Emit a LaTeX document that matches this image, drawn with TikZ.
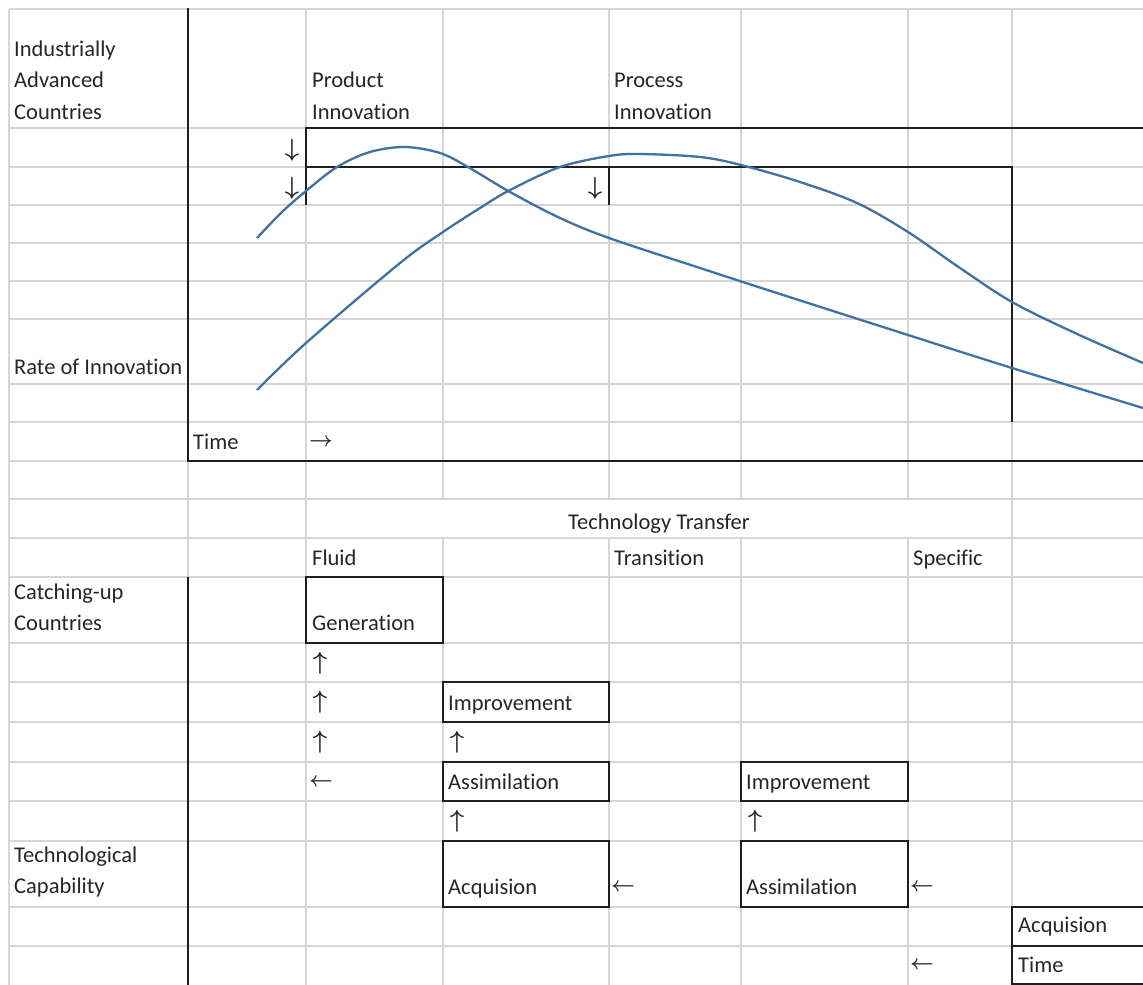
\documentclass[tikz,border=0pt]{standalone}
\usepackage{fontspec}
\setmainfont[Ligatures=NoCommon]{Carlito}
\usepackage{tikz}
\definecolor{gridgray}{RGB}{214,214,214}
\definecolor{curveblue}{RGB}{65,113,160}
\newcommand{\cellfont}{\fontsize{22.5pt}{31pt}\selectfont}
\newcommand{\signfont}{\fontsize{28pt}{28pt}\selectfont\boldmath}
\newcommand{\hsignfont}{\fontsize{20pt}{20pt}\selectfont\boldmath}

\begin{document}
\begin{tikzpicture}[x=1pt,y=-1pt,
	gridline/.style={draw=gridgray,line width=1.3pt},
	axis/.style={draw=black!88,line width=2pt},
	cellbox/.style={draw=black!88,line width=2.6pt},
	rate/.style={draw=curveblue,line width=2.3pt},
	celltext/.style={anchor=base west,inner sep=0pt,font=\cellfont,text=black!85},
	sign/.style={inner sep=0pt,font=\signfont,text=black!85},
	hsign/.style={inner sep=0pt,font=\hsignfont,text=black!85}]
	\useasboundingbox (0,0) rectangle (1143,985);
	% sheet grid
	\foreach \y in {9,128,167,205,243,281,319,384,422,461,499,538,577,643,682,722,762,801,841,907,946}
		\draw[gridline] (9,\y) -- (1143,\y);
	\foreach \x in {9,188,306,1012}
		\draw[gridline] (\x,9) -- (\x,985);
	\foreach \x in {443,609,741,908} {
		\draw[gridline] (\x,9) -- (\x,499);
		\draw[gridline] (\x,538) -- (\x,985);
	}
	% upper chart
	\draw[axis] (188,8) -- (188,461) -- (1143,461);
	\draw[axis] (306,205) -- (306,128) -- (1143,128);
	\draw[axis] (306,167) -- (1012,167) -- (1012,422);
	\draw[axis] (609,167) -- (609,205);
	\draw[rate] plot[smooth,tension=0.55] coordinates {(257,238) (282,212) (306,191) (337,167) (370,152) (405,147) (440,153) (468,167) (510,192) (560,218) (609,238) (700,268) (780,294) (908,335) (1012,368) (1143,408)};
	\draw[rate] plot[smooth,tension=0.55] coordinates {(257,390) (306,343) (400,263) (443,232) (480,208) (510,190) (560,167) (609,156) (640,154) (700,157) (741,165) (800,182) (857,203) (908,232) (960,268) (1012,302) (1075,333) (1143,363)};
	\node[celltext] (adv1) at (14,56) {Industrially};
	\node[celltext] (adv2) at (14,87) {Advanced};
	\node[celltext] (adv3) at (14,119) {Countries};
	\node[celltext] (prod1) at (312,87) {Product};
	\node[celltext] (prod2) at (312,119) {Innovation};
	\node[celltext] (proc1) at (614,87) {Process};
	\node[celltext] (proc2) at (614,119) {Innovation};
	\node[celltext] (rate) at (14,374) {Rate of Innovation};
	\node[celltext] (time1) at (193,449) {Time};
	\node[sign] (d1) at (292,150) {$\downarrow$};
	\node[sign] (d2) at (292,188) {$\downarrow$};
	\node[sign] (d3) at (595,188) {$\downarrow$};
	\node[hsign] (r1) at (321,442) {$\rightarrow$};
	% lower chart
	\draw[axis] (188,577) -- (188,985);
	\node[font=\cellfont,text=black!85,anchor=base,inner sep=0pt] (transfer) at (659,529) {Technology Transfer};
	\node[celltext] (fluid) at (312,565) {Fluid};
	\node[celltext] (trans) at (614,565) {Transition};
	\node[celltext] (spec) at (913,565) {Specific};
	\node[celltext] (catch1) at (14,599) {Catching-up};
	\node[celltext] (catch2) at (14,630) {Countries};
	\node[celltext] (cap1) at (14,862) {Technological};
	\node[celltext] (cap2) at (14,893) {Capability};
	\draw[cellbox] (306,577) rectangle (443,643);
	\draw[cellbox] (443,682) rectangle (609,722);
	\draw[cellbox] (443,762) rectangle (609,801);
	\draw[cellbox] (443,841) rectangle (609,907);
	\draw[cellbox] (741,762) rectangle (908,801);
	\draw[cellbox] (741,841) rectangle (908,907);
	\draw[cellbox] (1143,907) -- (1012,907) -- (1012,984) -- (1143,984);
	\draw[cellbox] (1012,946) -- (1143,946);
	\node[celltext] (gen) at (312,630) {Generation};
	\node[celltext] (imp1) at (448,710) {Improvement};
	\node[celltext] (ass1) at (448,789) {Assimilation};
	\node[celltext] (acq1) at (448,894) {Acquision};
	\node[celltext] (imp2) at (746,789) {Improvement};
	\node[celltext] (ass2) at (746,894) {Assimilation};
	\node[celltext] (acq2) at (1018,932) {Acquision};
	\node[celltext] (time2) at (1018,972) {Time};
	\node[sign] (u1) at (320,663) {$\uparrow$};
	\node[sign] (u2) at (320,702) {$\uparrow$};
	\node[sign] (u3) at (320,742) {$\uparrow$};
	\node[hsign] (l1) at (321,782) {$\leftarrow$};
	\node[sign] (u4) at (457,742) {$\uparrow$};
	\node[sign] (u5) at (457,821) {$\uparrow$};
	\node[sign] (u6) at (755,821) {$\uparrow$};
	\node[hsign] (l2) at (623,887) {$\leftarrow$};
	\node[hsign] (l3) at (922,887) {$\leftarrow$};
	\node[hsign] (l4) at (922,965) {$\leftarrow$};
\end{tikzpicture}
\end{document}
